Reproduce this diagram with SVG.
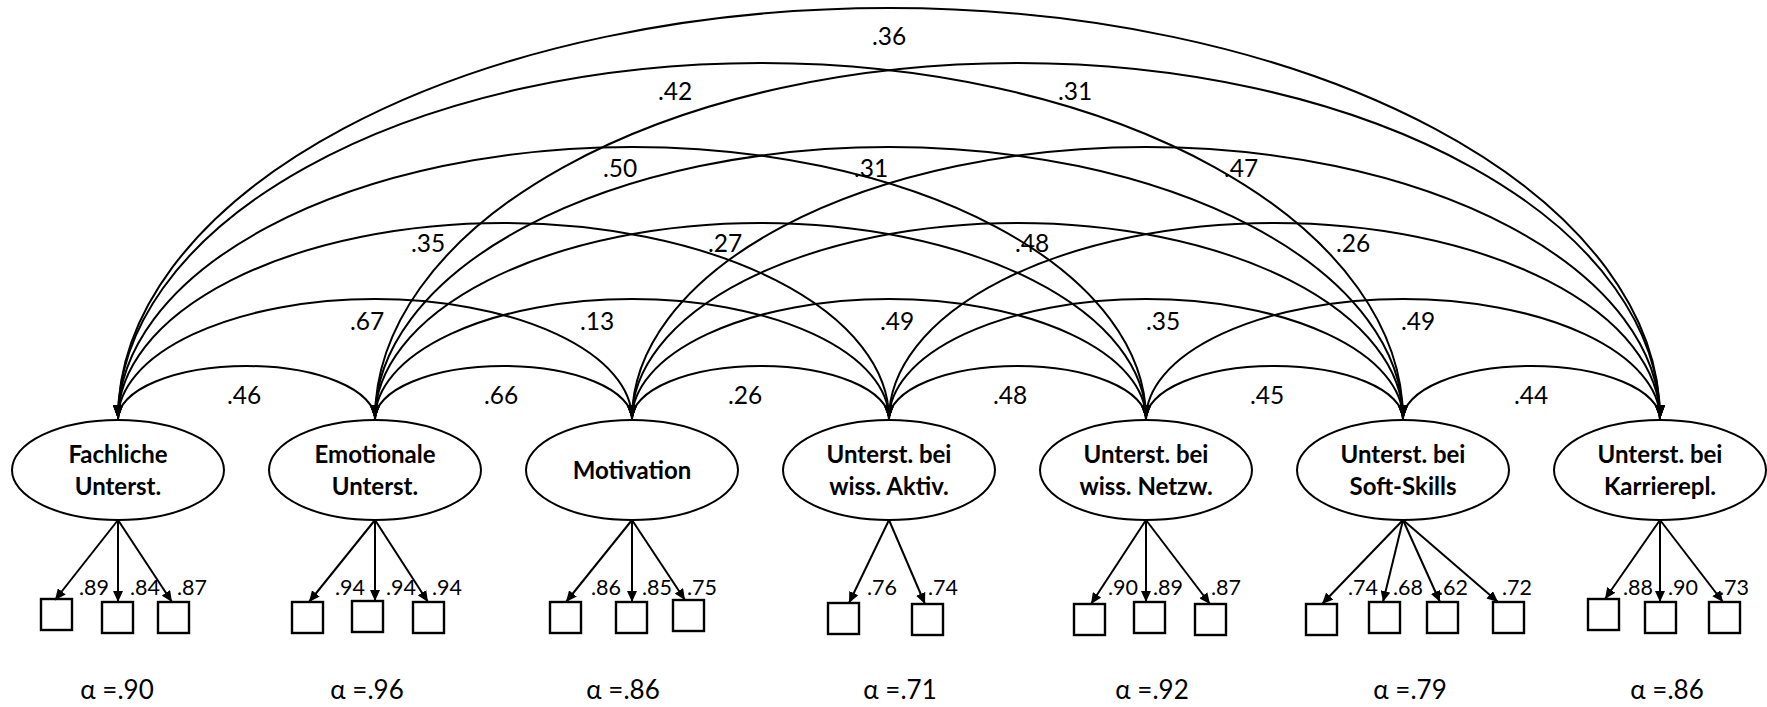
<svg xmlns="http://www.w3.org/2000/svg" width="1767" height="707" viewBox="0 0 1767 707">
<defs>
<marker id="ah" viewBox="0 0 14 10" refX="14" refY="5" markerWidth="14" markerHeight="10" orient="auto-start-reverse" markerUnits="userSpaceOnUse"><path d="M0,0 L14,5 L0,10 z" fill="#000"/></marker>
<marker id="lh" viewBox="0 0 11 10" refX="11" refY="5" markerWidth="11" markerHeight="10" orient="auto" markerUnits="userSpaceOnUse"><path d="M0,0 L11,5 L0,10 z" fill="#000"/></marker>
<style>
.arc{fill:none;stroke:#000;stroke-width:2;marker-start:url(#ah);marker-end:url(#ah)}
.ld{fill:none;stroke:#000;stroke-width:2;marker-end:url(#lh)}
.lat{fill:#fff;stroke:#000;stroke-width:2}
.box{fill:#fff;stroke:#000;stroke-width:2.4}
.nt{font-family:Lato,"Liberation Sans",sans-serif;font-weight:bold;font-size:24px;text-anchor:middle;fill:#000}
.cl{font-family:Lato,"Liberation Sans",sans-serif;font-size:24.5px;text-anchor:middle;fill:#000}
.ll{font-family:Lato,"Liberation Sans",sans-serif;font-size:21.5px;fill:#000}
.al{font-family:Lato,"Liberation Sans",sans-serif;font-size:26px;text-anchor:middle;fill:#000}
</style>
</defs>
<rect width="1767" height="707" fill="#fff"/>
<g id="connectors">
<path class="arc" d="M118,419 A128.5,53 0 0 1 375,419"/>
<path class="arc" d="M375,419 A128.5,53 0 0 1 632,419"/>
<path class="arc" d="M632,419 A128.5,53 0 0 1 889,419"/>
<path class="arc" d="M889,419 A128.5,53 0 0 1 1146,419"/>
<path class="arc" d="M1146,419 A128.5,53 0 0 1 1403,419"/>
<path class="arc" d="M1403,419 A128.5,53 0 0 1 1660,419"/>
<path class="arc" d="M118,419 A257,120 0 0 1 632,419"/>
<path class="arc" d="M375,419 A257,120 0 0 1 889,419"/>
<path class="arc" d="M632,419 A257,120 0 0 1 1146,419"/>
<path class="arc" d="M889,419 A257,120 0 0 1 1403,419"/>
<path class="arc" d="M1146,419 A257,120 0 0 1 1660,419"/>
<path class="arc" d="M118,419 A385.5,196 0 0 1 889,419"/>
<path class="arc" d="M375,419 A385.5,196 0 0 1 1146,419"/>
<path class="arc" d="M632,419 A385.5,196 0 0 1 1403,419"/>
<path class="arc" d="M889,419 A385.5,196 0 0 1 1660,419"/>
<path class="arc" d="M118,419 A514,272 0 0 1 1146,419"/>
<path class="arc" d="M375,419 A514,272 0 0 1 1403,419"/>
<path class="arc" d="M632,419 A514,272 0 0 1 1660,419"/>
<path class="arc" d="M118,419 A642.5,356 0 0 1 1403,419"/>
<path class="arc" d="M375,419 A642.5,356 0 0 1 1660,419"/>
<path class="arc" d="M118,419 A771,411 0 0 1 1660,419"/>
</g>
<g id="correlations">
<text class="cl" x="244" y="404">.46</text>
<text class="cl" x="501" y="404">.66</text>
<text class="cl" x="745" y="404">.26</text>
<text class="cl" x="1010" y="404">.48</text>
<text class="cl" x="1267" y="404">.45</text>
<text class="cl" x="1531" y="404">.44</text>
<text class="cl" x="367" y="330">.67</text>
<text class="cl" x="597" y="330">.13</text>
<text class="cl" x="897" y="330">.49</text>
<text class="cl" x="1163" y="330">.35</text>
<text class="cl" x="1418" y="330">.49</text>
<text class="cl" x="428" y="252">.35</text>
<text class="cl" x="725" y="252">.27</text>
<text class="cl" x="1032" y="252">.48</text>
<text class="cl" x="1353" y="252">.26</text>
<text class="cl" x="620" y="177">.50</text>
<text class="cl" x="871" y="177">.31</text>
<text class="cl" x="1241" y="177">.47</text>
<text class="cl" x="675" y="100">.42</text>
<text class="cl" x="1075" y="100">.31</text>
<text class="cl" x="889" y="45">.36</text>
</g>
<g id="node-fachliche">
<ellipse class="lat" cx="118" cy="470" rx="106" ry="50"/>
<text class="nt" x="118" y="463">Fachliche</text>
<text class="nt" x="118" y="495">Unterst.</text>
<rect class="box" x="41" y="599" width="31" height="31"/>
<rect class="box" x="102" y="602" width="31" height="31"/>
<rect class="box" x="158" y="602" width="31" height="31"/>
<text class="ll" x="79" y="595">.89</text>
<text class="ll" x="130" y="595">.84</text>
<text class="ll" x="177" y="595">.87</text>
<path class="ld" d="M118,520 L55,600"/>
<path class="ld" d="M118,520 L118,602"/>
<path class="ld" d="M118,520 L172,602"/>
<text class="al" x="117" y="699">α =.90</text>
</g>
<g id="node-emotionale">
<ellipse class="lat" cx="375" cy="470" rx="106" ry="50"/>
<text class="nt" x="375" y="463">Emotionale</text>
<text class="nt" x="375" y="495">Unterst.</text>
<rect class="box" x="292" y="602" width="31" height="31"/>
<rect class="box" x="352" y="601" width="31" height="31"/>
<rect class="box" x="413" y="602" width="31" height="31"/>
<text class="ll" x="335" y="595">.94</text>
<text class="ll" x="386" y="595">.94</text>
<text class="ll" x="432" y="595">.94</text>
<path class="ld" d="M375,520 L309,602"/>
<path class="ld" d="M375,520 L375,601"/>
<path class="ld" d="M375,520 L428,602"/>
<text class="al" x="367" y="699">α =.96</text>
</g>
<g id="node-motivation">
<ellipse class="lat" cx="632" cy="470" rx="106" ry="50"/>
<text class="nt" x="632" y="479">Motivation</text>
<rect class="box" x="550" y="602" width="31" height="31"/>
<rect class="box" x="616" y="602" width="31" height="31"/>
<rect class="box" x="673" y="600" width="31" height="31"/>
<text class="ll" x="591" y="595">.86</text>
<text class="ll" x="642" y="595">.85</text>
<text class="ll" x="687" y="595">.75</text>
<path class="ld" d="M632,520 L566,602"/>
<path class="ld" d="M632,520 L632,602"/>
<path class="ld" d="M632,520 L685,600"/>
<text class="al" x="623" y="699">α =.86</text>
</g>
<g id="node-aktiv">
<ellipse class="lat" cx="889" cy="470" rx="106" ry="50"/>
<text class="nt" x="889" y="463">Unterst. bei</text>
<text class="nt" x="889" y="495">wiss. Aktiv.</text>
<rect class="box" x="828" y="603" width="31" height="31"/>
<rect class="box" x="912" y="604" width="31" height="31"/>
<text class="ll" x="867" y="595">.76</text>
<text class="ll" x="928" y="595">.74</text>
<path class="ld" d="M889,520 L849,603"/>
<path class="ld" d="M889,520 L925,604"/>
<text class="al" x="900" y="699">α =.71</text>
</g>
<g id="node-netzw">
<ellipse class="lat" cx="1146" cy="470" rx="106" ry="50"/>
<text class="nt" x="1146" y="463">Unterst. bei</text>
<text class="nt" x="1146" y="495">wiss. Netzw.</text>
<rect class="box" x="1074" y="604" width="31" height="31"/>
<rect class="box" x="1134" y="602" width="31" height="31"/>
<rect class="box" x="1195" y="604" width="31" height="31"/>
<text class="ll" x="1108" y="595">.90</text>
<text class="ll" x="1153" y="595">.89</text>
<text class="ll" x="1211" y="595">.87</text>
<path class="ld" d="M1146,520 L1091,604"/>
<path class="ld" d="M1146,520 L1146,602"/>
<path class="ld" d="M1146,520 L1210,604"/>
<text class="al" x="1152" y="699">α =.92</text>
</g>
<g id="node-softskills">
<ellipse class="lat" cx="1403" cy="470" rx="106" ry="50"/>
<text class="nt" x="1403" y="463">Unterst. bei</text>
<text class="nt" x="1403" y="495">Soft-Skills</text>
<rect class="box" x="1306" y="604" width="31" height="31"/>
<rect class="box" x="1369" y="602" width="31" height="31"/>
<rect class="box" x="1427" y="602" width="31" height="31"/>
<rect class="box" x="1493" y="602" width="31" height="31"/>
<text class="ll" x="1348" y="595">.74</text>
<text class="ll" x="1393" y="595">.68</text>
<text class="ll" x="1438" y="595">.62</text>
<text class="ll" x="1502" y="595">.72</text>
<path class="ld" d="M1403,520 L1322,604"/>
<path class="ld" d="M1403,520 L1383,602"/>
<path class="ld" d="M1403,520 L1440,602"/>
<path class="ld" d="M1403,520 L1498,602"/>
<text class="al" x="1410" y="699">α =.79</text>
</g>
<g id="node-karriere">
<ellipse class="lat" cx="1660" cy="470" rx="106" ry="50"/>
<text class="nt" x="1660" y="463">Unterst. bei</text>
<text class="nt" x="1660" y="495">Karrierepl.</text>
<rect class="box" x="1588" y="599" width="31" height="31"/>
<rect class="box" x="1645" y="602" width="31" height="31"/>
<rect class="box" x="1709" y="602" width="31" height="31"/>
<text class="ll" x="1623" y="595">.88</text>
<text class="ll" x="1668" y="595">.90</text>
<text class="ll" x="1719" y="595">.73</text>
<path class="ld" d="M1660,520 L1605,599"/>
<path class="ld" d="M1660,520 L1660,602"/>
<path class="ld" d="M1660,520 L1723,602"/>
<text class="al" x="1667" y="699">α =.86</text>
</g>
</svg>
